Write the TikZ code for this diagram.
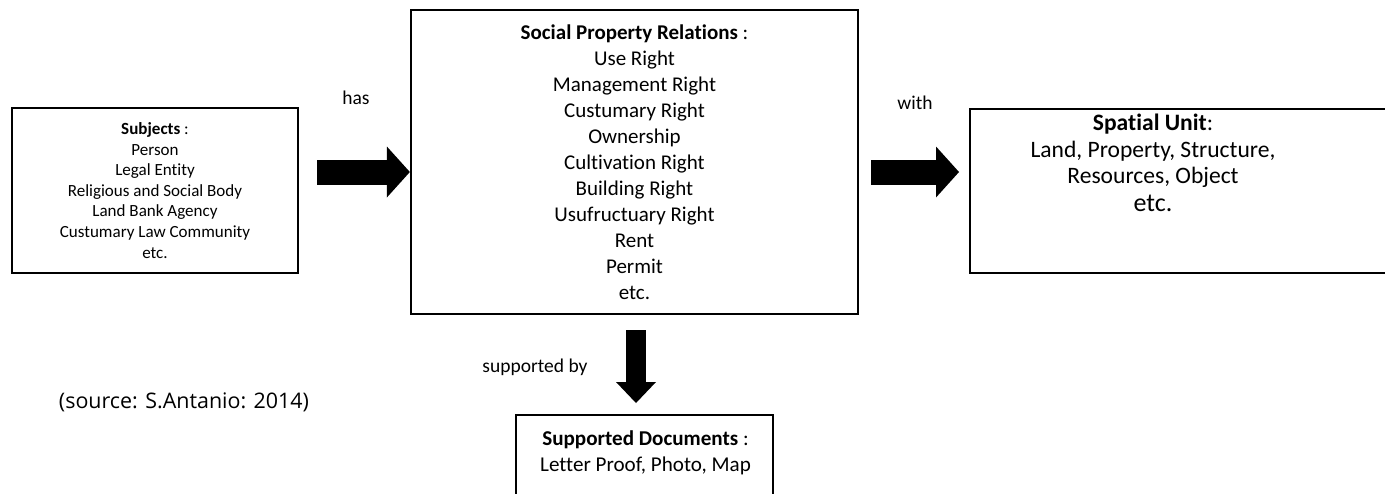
\documentclass[tikz,border=0pt]{standalone}
\usepackage{fontspec}
\setmainfont[Ligatures=NoCommon]{Carlito}
\newfontfamily\srcfont{Open Sans}
\usetikzlibrary{arrows.meta}

\newcommand{\fsize}[2]{\fontsize{#1}{#2}\selectfont}

\begin{document}
\begin{tikzpicture}[
	box/.style={draw, line width=1.3pt, align=center, inner sep=0pt},
	fat/.style={line width=0.5cm, -{Triangle[length=0.46cm, width=1.02cm, line width=0pt]}},
	thin fat/.style={line width=0.4cm, -{Triangle[length=0.42cm, width=0.8cm, line width=0pt]}},
	lbl/.style={font=\fsize{11.1}{13}}]
	\useasboundingbox (0,0) rectangle (27.7,-9.86);
	\clip (0,0) rectangle (27.7,-9.86);

	% the four boxes
	\node[box, minimum width=5.72cm, minimum height=3.3cm, font=\fsize{9.7}{11.7}] (subj) at (3.10,-3.81)
		{\textbf{Subjects} :\\Person\\Legal Entity\\Religious and Social Body\\Land Bank Agency\\Custumary Law Community\\etc.};
	\node[box, minimum width=8.94cm, minimum height=6.08cm, font=\fsize{11.95}{14.8}] (rel) at (12.69,-3.24)
		{\textbf{Social Property Relations} :\\Use Right\\Management Right\\Custumary Right\\Ownership\\Cultivation Right\\Building Right\\Usufructuary Right\\Rent\\Permit\\etc.};
	\node[box, minimum width=9cm, minimum height=3.28cm, anchor=north west] (spat) at (19.38,-2.16) {};
	\node[align=center, font=\fsize{13.4}{15.1}] (spattext) at (23.06,-3.26)
		{\textbf{Spatial Unit}:\\Land, Property, Structure,\\Resources, Object\\[1pt]{\fsize{14.8}{16}etc.}};
	\node[box, minimum width=5.14cm, minimum height=2cm, anchor=north] (docs) at (12.89,-8.28) {};
	\node[align=center, font=\fsize{12}{14.8}] (docstext) at (12.91,-9.06)
		{\textbf{Supported Documents} :\\Letter Proof, Photo, Map};

	% block arrows
	\coordinate (hasA) at (6.34,-3.44);
	\coordinate (withA) at (17.42,-3.44);
	\coordinate (supA) at (12.72,-6.60);
	\draw[fat] (hasA) -- (hasA -| rel.west);
	\draw[fat, shorten >=0.2cm] (withA) -- (withA -| spat.west);
	\draw[thin fat, shorten >=0.22cm] (supA) -- (supA |- docs.north);

	\node[lbl] (has) at (7.12,-1.96) {has};
	\node[lbl] (with) at (18.30,-2.06) {with};
	\node[lbl] (supby) at (10.70,-7.34) {supported by};

	\node[font=\srcfont\fsize{12.2}{14}] (src) at (3.68,-8.04) {(source: S.Antanio: 2014)};
\end{tikzpicture}
\end{document}
